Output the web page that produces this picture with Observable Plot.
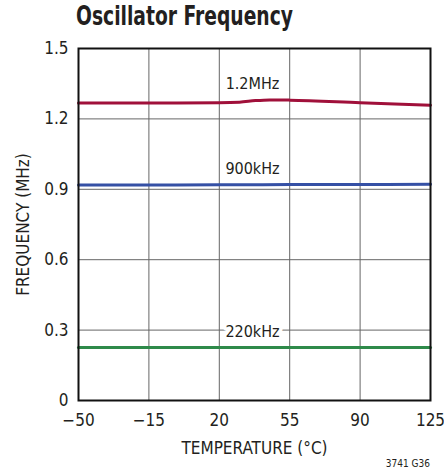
<!DOCTYPE html>
<html>
<head>
<meta charset="utf-8">
<script src="https://cdn.jsdelivr.net/npm/d3@7"></script>
<script src="https://cdn.jsdelivr.net/npm/@observablehq/plot@0.6"></script>
<style>
  html, body { margin: 0; padding: 0; background: #fff; }
  #wrap { position: relative; width: 444px; height: 476px; }
  #title { position: absolute; left: 76px; top: 1px; font-family: "Liberation Sans Narrow", "Arial Narrow", "DejaVu Sans Condensed", sans-serif; font-weight: bold; font-size: 26px; color: #231f20; white-space: nowrap; transform: scaleX(0.8); transform-origin: left top; }
  #code { position: absolute; right: 14px; top: 458px; font-family: "Liberation Sans Narrow", "Arial Narrow", "DejaVu Sans Condensed", sans-serif; font-size: 10px; color: #231f20; }
  #chart { position: absolute; left: 0; top: 0; }
</style>
</head>
<body>
<div id="wrap">
  <div id="chart"></div>
  <div id="title">Oscillator Frequency</div>
  <div id="code">3741 G36</div>
</div>
<script>
// Data
const tempTicks = [-50, -15, 20, 55, 90, 125];
const freqTicks = [0, 0.3, 0.6, 0.9, 1.2, 1.5];

const temp12 = [-50, -15, 20, 30, 38, 45, 55, 90, 125];
const freq12 = [1.268, 1.268, 1.269, 1.271, 1.278, 1.281, 1.280, 1.269, 1.258];

const temp900 = [-50, -15, 20, 55, 90, 125];
const freq900 = [0.918, 0.918, 0.919, 0.920, 0.920, 0.921];

const temp220 = [-50, -15, 20, 55, 90, 125];
const freq220 = [0.226, 0.226, 0.226, 0.226, 0.226, 0.226];

const seriesNames = ["1.2MHz", "900kHz", "220kHz"];
const seriesColors = ["#a0103a", "#3550a5", "#2e8a4a"];
const labelTemp = [36.5, 36.5, 36.5];
const labelFreq = [1.349, 0.987, 0.291];

const rows = [];
[[temp12, freq12], [temp900, freq900], [temp220, freq220]].forEach(([t, f], i) => {
  t.forEach((x, j) => rows.push({series: seriesNames[i], t: x, f: f[j]}));
});
const labels = seriesNames.map((s, i) => ({series: s, t: labelTemp[i], f: labelFreq[i]}));

const font = '"Liberation Sans Narrow", "Arial Narrow", "DejaVu Sans Condensed", sans-serif';

const chart = Plot.plot({
  width: 444,
  height: 476,
  marginTop: 48,
  marginBottom: 76,
  marginLeft: 78,
  marginRight: 14,
  style: {fontFamily: font, fontSize: "16px", color: "#231f20", background: "white"},
  x: {domain: [-50, 125], ticks: tempTicks, label: null},
  y: {domain: [0, 1.5], ticks: freqTicks, label: null},
  color: {domain: seriesNames, range: seriesColors},
  marks: [
    Plot.gridX(tempTicks, {stroke: "#666", strokeOpacity: 1, strokeWidth: 1}),
    Plot.gridY(freqTicks, {stroke: "#666", strokeOpacity: 1, strokeWidth: 1}),
    Plot.line(rows, {x: "t", y: "f", z: "series", stroke: "series", strokeWidth: 3, curve: "monotone-x"}),
    Plot.text(labels, {x: "t", y: "f", text: "series", fill: "#231f20", stroke: "white", strokeWidth: 7, paintOrder: "stroke", fontSize: 16}),
    Plot.frame({stroke: "#111", strokeWidth: 2}),
    Plot.axisX({ticks: tempTicks, tickSize: 0, tickPadding: 13, fontSize: 17, tickFormat: d => d < 0 ? "\u2212" + Math.abs(d) : String(d), label: "TEMPERATURE (°C)", labelAnchor: "center", labelArrow: "none", labelOffset: 53}),
    Plot.axisY({ticks: freqTicks, tickSize: 0, tickPadding: 10, fontSize: 17, tickFormat: d => d === 0 ? "0" : d.toFixed(1), label: "FREQUENCY (MHz)", labelAnchor: "center", labelArrow: "none", labelOffset: 62})
  ]
});
document.getElementById("chart").appendChild(chart);
</script>
</body>
</html>
